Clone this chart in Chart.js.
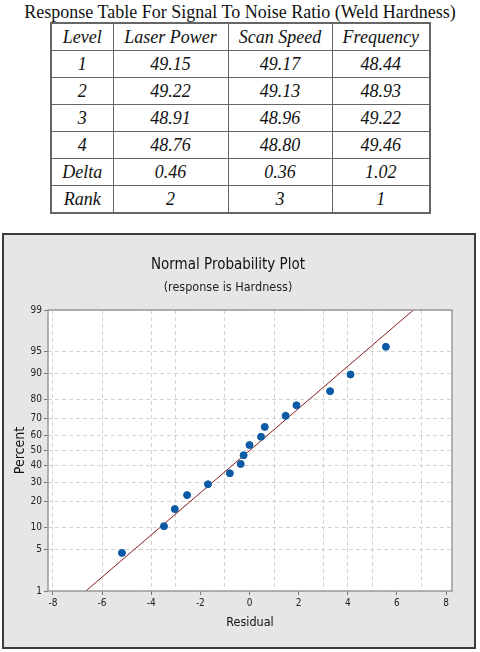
<!DOCTYPE html>
<html>
<head>
<meta charset="utf-8">
<script src="https://cdn.jsdelivr.net/npm/chart.js@4"></script>
<style>
body{margin:0;width:480px;height:652px;background:#fff;position:relative;overflow:hidden;}
#ttl{position:absolute;left:0;top:1px;width:480px;text-align:center;font:18px "Liberation Serif","Times New Roman",serif;line-height:22px;color:#111;white-space:nowrap;}
#tbl{position:absolute;left:50px;top:22px;border-collapse:collapse;table-layout:fixed;font:italic 18px "Liberation Serif","Times New Roman",serif;color:#111;border:2px solid #666;}
#tbl td{border:1px solid #666;height:26px;padding:0;text-align:center;line-height:20px;}
#box{position:absolute;left:2px;top:233px;width:474px;height:416px;box-sizing:border-box;border:2px solid #3c3c3c;background:#e6e6e6;}
#c{position:absolute;left:0;top:0;}
</style>
</head>
<body>
<div id="ttl">Response Table For Signal To Noise Ratio (Weld Hardness)</div>
<table id="tbl">
  <colgroup><col style="width:62px"><col style="width:115px"><col style="width:104px"><col style="width:98px"></colgroup>
  <tbody id="tb"></tbody>
</table>
<div id="box"><canvas id="c" width="470" height="412"></canvas></div>
<script>
// response table
const headers = ['Level', 'Laser Power', 'Scan Speed', 'Frequency']
const levels = ['1', '2', '3', '4', 'Delta', 'Rank']
const laserPower = ['49.15', '49.22', '48.91', '48.76', '0.46', '2']
const scanSpeed = ['49.17', '49.13', '48.96', '48.80', '0.36', '3']
const frequency = ['48.44', '48.93', '49.22', '49.46', '1.02', '1']

// normal probability plot
const residuals = [-5.19, -3.48, -3.04, -2.54, -1.69, -0.80, -0.36, -0.24, 0.00, 0.47, 0.62, 1.47, 1.91, 3.28, 4.11, 5.55]
const percents = [4.5, 10.5, 16.6, 23.0, 28.8, 35.3, 41.2, 46.9, 53.6, 59.0, 65.2, 71.7, 77.3, 83.7, 89.6, 95.7]
const fitResidual = [-6.66, 6.67]
const fitPercent = [1, 99]
const yTicks = [1, 5, 10, 20, 30, 40, 50, 60, 70, 80, 90, 95, 99]
const xTicks = [-8, -6, -4, -2, 0, 2, 4, 6, 8]
const xGridAt = [-8, -6, -4, -3, -1, 1, 3, 4, 5, 7]

let rows = '<tr>' + headers.map(h => '<td>' + h + '</td>').join('') + '</tr>'
levels.forEach((l, i) => {
    rows += '<tr><td>' + l + '</td><td>' + laserPower[i] + '</td><td>' + scanSpeed[i] + '</td><td>' + frequency[i] + '</td></tr>'
})
document.getElementById('tb').innerHTML = rows

// inverse normal cdf (Acklam), used as the probability scale
function probit(p) {
    const a = [-39.6968302866538, 220.946098424521, -275.928510446969, 138.357751867269, -30.6647980661472, 2.50662827745924]
    const b = [-54.4760987982241, 161.585836858041, -155.698979859887, 66.8013118877197, -13.2806815528857]
    const c = [-0.00778489400243029, -0.322396458041136, -2.40075827716184, -2.54973253934373, 4.37466414146497, 2.93816398269878]
    const d = [0.00778469570904146, 0.32246712907004, 2.445134137143, 3.75440866190742]
    const pl = 0.02425
    let q, r
    if (p < pl) {
        q = Math.sqrt(-2 * Math.log(p))
        return (((((c[0]*q+c[1])*q+c[2])*q+c[3])*q+c[4])*q+c[5]) / ((((d[0]*q+d[1])*q+d[2])*q+d[3])*q+1)
    }
    if (p > 1 - pl) {
        q = Math.sqrt(-2 * Math.log(1 - p))
        return -(((((c[0]*q+c[1])*q+c[2])*q+c[3])*q+c[4])*q+c[5]) / ((((d[0]*q+d[1])*q+d[2])*q+d[3])*q+1)
    }
    q = p - 0.5
    r = q * q
    return (((((a[0]*r+a[1])*r+a[2])*r+a[3])*r+a[4])*r+a[5])*q / (((((b[0]*r+b[1])*r+b[2])*r+b[3])*r+b[4])*r+1)
}

const plotFrame = {
    id: 'plotFrame',
    beforeDraw(chart) {
        const a = chart.chartArea, ctx = chart.ctx
        ctx.save()
        ctx.fillStyle = '#fff'
        ctx.fillRect(a.left, a.top, a.width, a.height)
        ctx.restore()
    },
    afterDraw(chart) {
        const a = chart.chartArea, ctx = chart.ctx
        ctx.save()
        ctx.strokeStyle = '#9a9a9a'
        ctx.lineWidth = 1.5
        ctx.strokeRect(a.left, a.top, a.width, a.height)
        ctx.restore()
    }
}

const narrow = '"DejaVu Sans Condensed", "Liberation Sans Narrow", "Liberation Sans", Arial, sans-serif'

const config = {
    type: 'scatter',
    data: {
        datasets: [{
            data: residuals.map((r, i) => ({x: r, y: probit(percents[i] / 100)})),
            backgroundColor: '#0b5aa5',
            borderColor: '#0b5aa5',
            pointRadius: 3.5,
            order: 0
        }, {
            type: 'line',
            data: fitResidual.map((r, i) => ({x: r, y: probit(fitPercent[i] / 100)})),
            borderColor: '#8b1c1c',
            borderWidth: 1,
            pointRadius: 0,
            order: 1
        }]
    },
    options: {
        responsive: false,
        animation: false,
        layout: {padding: {left: 0, right: 22, top: 0, bottom: 0}},
        plugins: {
            legend: {display: false},
            tooltip: {enabled: false},
            title: {
                display: true,
                text: 'Normal Probability Plot',
                color: '#111',
                font: {family: narrow, size: 15, weight: 'normal'},
                padding: {top: 21, bottom: 6}
            },
            subtitle: {
                display: true,
                text: '(response is Hardness)',
                color: '#222',
                font: {family: narrow, size: 12.5},
                padding: {top: 0, bottom: 15}
            }
        },
        scales: {
            x: {
                type: 'linear',
                min: -8.2,
                max: 8.24,
                afterBuildTicks: s => {
                    const t = []
                    for (let v = xTicks[0]; v <= xTicks[xTicks.length - 1]; v++) t.push({value: v})
                    s.ticks = t
                },
                afterFit: s => { s.height = 56 },
                ticks: {
                    autoSkip: false,
                    maxRotation: 0,
                    padding: 2,
                    color: '#222',
                    font: {family: narrow, size: 10},
                    callback: v => xTicks.includes(v) ? String(v) : ''
                },
                grid: {
                    color: ctx => xGridAt.includes(ctx.tick && ctx.tick.value) ? '#d2d2d2' : 'transparent',
                    tickColor: ctx => xTicks.includes(ctx.tick && ctx.tick.value) ? '#777' : 'transparent',
                    tickLength: 4
                },
                border: {display: false, dash: [4, 3]},
                title: {
                    display: true,
                    text: 'Residual',
                    color: '#111',
                    font: {family: narrow, size: 12.5},
                    padding: {top: 4, bottom: 17}
                }
            },
            y: {
                type: 'linear',
                min: probit(yTicks[0] / 100),
                max: probit(yTicks[yTicks.length - 1] / 100),
                afterBuildTicks: s => { s.ticks = yTicks.map(p => ({value: probit(p / 100)})) },
                afterFit: s => { s.width = 44 },
                ticks: {
                    autoSkip: false,
                    padding: 2,
                    color: '#222',
                    font: {family: narrow, size: 10},
                    callback: (v, i) => String(yTicks[i])
                },
                grid: {color: '#d2d2d2', tickColor: '#777', tickLength: 4},
                border: {display: false, dash: [4, 3]},
                title: {
                    display: true,
                    text: 'Percent',
                    color: '#111',
                    font: {family: narrow, size: 14},
                    padding: {top: 8, bottom: 0}
                }
            }
        }
    },
    plugins: [plotFrame]
}

const probChart = new Chart(document.getElementById('c'), config)
</script>
</body>
</html>
